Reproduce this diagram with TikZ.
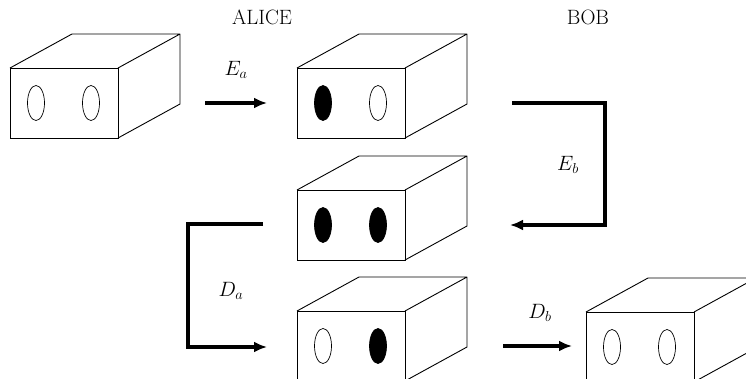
\documentclass[tikz,border=0pt]{standalone}
\usetikzlibrary{arrows.meta,calc}
\begin{document}
\begin{tikzpicture}[x=1pt,y=-1pt,
  face/.style={draw,line width=0.9pt,minimum width=108pt,minimum height=70pt,anchor=north west,inner sep=0pt,outer sep=0pt},
  edge/.style={line width=0.9pt,line join=round},
  hole/.style={line width=0.7pt},
  flow/.style={line width=3.6pt,-{Latex[length=13pt,width=11pt]}},
  lbl/.style={font=\fontsize{20.74}{25}\selectfont,inner sep=0pt}]
\useasboundingbox (0,0) rectangle (746,378);
\newcommand\mycube[5]{%
  \node[face] (#1) at (#2,#3) {};
  \draw[edge] (#1.north west) -- ++(62,-34) -- ++(108,0) -- ++(0,70) -- (#1.south east)
              (#1.north east) -- ++(62,-34);
  \draw[hole,fill=#4] ($(#1.west)+(26,0)$) ellipse (8.5 and 17.5);
  \draw[hole,fill=#5] ($(#1.west)+(81,0)$) ellipse (8.5 and 17.5);
}
\mycube{b1}{10}{68}{white}{white}
\mycube{b2}{297}{68}{black}{white}
\mycube{b3}{297}{190}{black}{black}
\mycube{b4}{297}{311}{white}{black}
\mycube{b5}{586}{312}{white}{white}
\node[lbl] (alice) at (262,17) {ALICE};
\node[lbl] (bob) at (588,17) {BOB};
\coordinate (ea1) at (205,103); \coordinate (ea2) at (267,103);
\coordinate (eb1) at (512,103); \coordinate (eb2) at (605,225); \coordinate (eb3) at (510,225);
\coordinate (da1) at (263,224); \coordinate (da2) at (188,347); \coordinate (da3) at (267,347);
\coordinate (db1) at (503,346); \coordinate (db2) at (572,346);
\draw[flow] (ea1) -- (ea2);
\draw[flow] (eb1) -| (eb2) -- (eb3);
\draw[flow] (da1) -| (da2) -- (da3);
\draw[flow] (db1) -- (db2);
\node[lbl] (la) at (236,70) {$E_a$};
\node[lbl] (lb) at (568,165) {$E_b$};
\node[lbl] (lc) at (231,291) {$D_a$};
\node[lbl] (ld) at (540,313) {$D_b$};
\end{tikzpicture}
\end{document}
